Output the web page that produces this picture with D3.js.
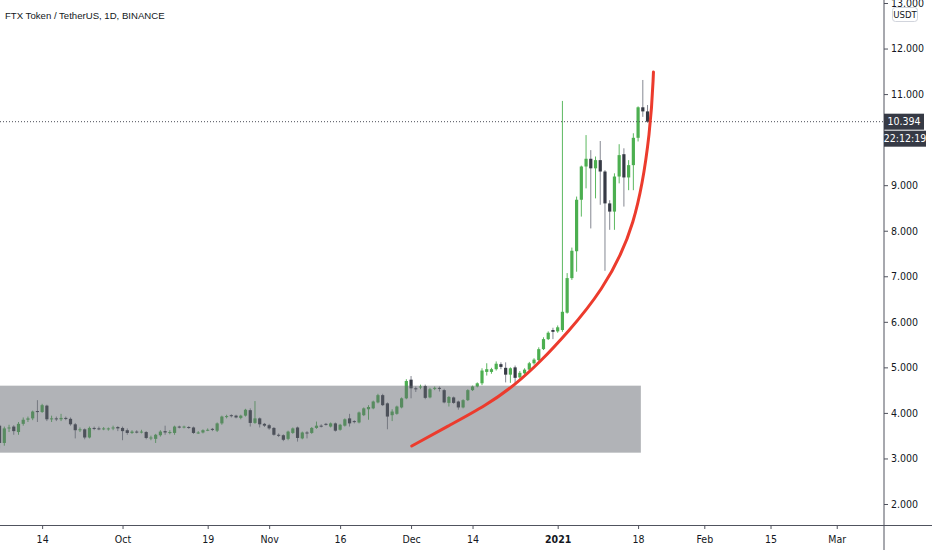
<!DOCTYPE html>
<html>
<head>
<meta charset="utf-8">
<script src="https://cdn.jsdelivr.net/npm/d3@7"></script>
<style>
  body { margin: 0; background: #fff; }
  svg { display: block; }
</style>
</head>
<body>
<div id="container"></div>
<script>
/* CONSTANTS AND GLOBALS */
const width = 932,
  height = 550,
  axisX = 884,   // price scale line
  axisY = 525,   // time scale line
  narrow = "'Liberation Sans Narrow', 'Arial Narrow', 'DejaVu Sans Condensed', sans-serif";

/* DATA */
const title = "FTX Token / TetherUS, 1D, BINANCE";
const firstDay = "2020-09-05", lastDay = "2021-01-20";

const openVals = [3.72,3.34,3.66,3.70,3.58,3.76,3.85,3.88,4.04,4.02,4.16,3.86,3.88,3.86,3.89,3.87,3.75,3.62,3.64,3.46,
  3.67,3.66,3.65,3.66,3.66,3.69,3.67,3.62,3.56,3.59,3.58,3.58,3.45,3.43,3.51,3.60,3.56,3.56,3.70,3.68,
  3.69,3.68,3.56,3.57,3.62,3.65,3.61,3.77,3.92,3.95,3.94,3.89,3.94,4.06,3.78,3.88,3.76,3.73,3.67,3.52,
  3.51,3.43,3.56,3.68,3.44,3.57,3.56,3.67,3.72,3.76,3.70,3.77,3.63,3.72,3.88,3.82,3.79,3.95,4.08,4.10,
  4.23,4.39,4.21,3.95,3.98,4.12,4.32,4.73,4.54,4.56,4.59,4.34,4.53,4.55,4.50,4.22,4.34,4.25,4.12,4.28,
  4.50,4.58,4.65,4.90,4.90,4.96,5.07,4.99,4.84,5.00,4.78,4.87,4.95,5.09,5.16,5.40,5.62,5.82,5.79,5.82,
  6.20,6.96,7.55,8.68,9.41,9.58,9.37,9.55,9.30,8.60,8.42,9.19,9.68,9.17,9.44,10.04,10.71,10.62];
const highVals = [3.76,3.70,3.74,3.73,3.80,3.90,3.92,4.05,4.28,4.20,4.18,3.94,3.92,3.98,3.92,3.90,3.78,3.68,3.66,3.70,
  3.70,3.70,3.69,3.68,3.72,3.71,3.70,3.66,3.62,3.62,3.63,3.60,3.50,3.54,3.62,3.72,3.62,3.72,3.72,3.72,
  3.71,3.70,3.60,3.64,3.66,3.67,3.79,3.94,3.96,3.97,3.96,3.96,4.09,4.10,4.26,3.90,3.78,3.76,3.69,3.55,
  3.53,3.61,3.68,3.70,3.59,3.60,3.69,3.81,3.75,3.78,3.79,3.79,3.76,3.88,3.98,3.84,4.03,4.12,4.17,4.27,
  4.42,4.42,4.23,4.08,4.16,4.34,4.74,4.81,4.58,4.62,4.62,4.55,4.58,4.58,4.53,4.37,4.36,4.27,4.30,4.52,
  4.60,4.67,4.98,5.09,4.99,5.13,5.11,5.11,5.00,5.04,4.92,4.98,5.12,5.20,5.44,5.66,5.79,5.87,5.92,10.85,
  7.07,7.63,8.75,9.43,10.10,9.77,9.63,9.97,9.33,8.67,9.26,9.90,9.81,9.55,10.14,10.73,11.31,10.76];
const lowVals = [3.22,3.28,3.58,3.52,3.52,3.72,3.80,3.84,3.80,4.00,3.82,3.80,3.82,3.82,3.84,3.72,3.44,3.58,3.42,3.44,
  3.62,3.62,3.62,3.61,3.62,3.60,3.40,3.52,3.54,3.55,3.55,3.42,3.40,3.34,3.48,3.52,3.53,3.52,3.66,3.66,
  3.65,3.54,3.54,3.55,3.60,3.60,3.58,3.74,3.88,3.90,3.88,3.86,3.92,3.70,3.76,3.68,3.69,3.63,3.50,3.47,
  3.38,3.40,3.54,3.37,3.42,3.44,3.54,3.65,3.68,3.72,3.68,3.59,3.61,3.70,3.70,3.77,3.77,3.93,3.85,4.08,
  4.21,4.15,3.64,3.82,3.96,4.10,4.30,4.32,4.46,4.52,4.30,4.32,4.50,4.47,4.21,4.14,4.20,4.07,4.10,4.26,
  4.48,4.56,4.61,4.82,4.86,4.93,4.96,4.67,4.66,4.63,4.75,4.84,4.93,5.06,5.14,5.38,5.60,5.62,5.76,5.78,
  6.18,6.92,7.10,8.31,8.93,8.05,8.71,8.57,7.12,8.02,8.02,9.04,8.53,8.89,8.89,9.96,10.50,10.37];
const closeVals = [3.34,3.66,3.68,3.60,3.76,3.85,3.88,4.03,4.02,4.17,3.86,3.88,3.86,3.89,3.87,3.75,3.62,3.64,3.46,3.67,
  3.66,3.65,3.66,3.66,3.68,3.66,3.60,3.56,3.59,3.58,3.59,3.45,3.46,3.52,3.59,3.57,3.58,3.70,3.69,3.70,
  3.68,3.56,3.57,3.62,3.63,3.63,3.77,3.92,3.93,3.93,3.90,3.94,4.07,3.78,3.88,3.75,3.72,3.66,3.52,3.51,
  3.41,3.59,3.66,3.45,3.57,3.55,3.67,3.72,3.71,3.74,3.77,3.61,3.74,3.86,3.77,3.80,4.01,4.10,4.13,4.25,
  4.39,4.17,3.92,4.03,4.14,4.32,4.70,4.54,4.52,4.58,4.33,4.52,4.55,4.53,4.23,4.35,4.22,4.12,4.28,4.50,
  4.58,4.65,4.93,4.96,4.96,5.08,5.01,4.84,4.98,4.77,4.88,4.95,5.09,5.17,5.40,5.62,5.76,5.78,5.88,6.22,
  6.96,7.56,8.68,9.41,9.58,9.37,9.55,9.30,8.60,8.42,9.19,9.66,9.17,9.44,10.04,10.71,10.62,10.394];

const priceTicks = [2, 3, 4, 5, 6, 7, 8, 9, 10, 11, 12, 13];
const tickDates = ["2020-09-14","2020-10-01","2020-10-19","2020-11-01","2020-11-16","2020-12-01",
  "2020-12-14","2021-01-01","2021-01-18","2021-02-01","2021-02-15","2021-03-01"];
const tickLabels = ["14","Oct","19","Nov","16","Dec","14","2021","18","Feb","15","Mar"];

const lastPrice = 10.394, countdown = "22:12:19", currency = "USDT";

// grey rectangle drawing
const boxStart = "2020-08-20", boxEnd = "2021-01-18T14:00:00Z", boxLow = 3.127, boxHigh = 4.598;

// red arc drawing, anchor points
const arcDates = ["2020-12-01T03:36:00Z","2020-12-09T06:00:00Z","2020-12-16T21:00:00Z","2020-12-23T00:00:00Z",
  "2020-12-28T12:00:00Z","2021-01-03T00:00:00Z","2021-01-10T04:00:00Z","2021-01-17T14:00:00Z",
  "2021-01-20T18:00:00Z","2021-01-21T06:00:00Z"];
const arcPrices = [3.274, 3.735, 4.164, 4.614, 5.141, 5.756, 6.634, 8.061, 10.278, 11.485];

const days = d3.utcDay.range(new Date(firstDay), d3.utcDay.offset(new Date(lastDay), 1));
const data = days.map((d, i) => ({
  date: d, open: openVals[i], high: highVals[i], low: lowVals[i], close: closeVals[i]
}));
const arc = arcDates.map((d, i) => ({ date: new Date(d), price: arcPrices[i] }));

/* SCALES */
const xScale = d3.scaleUtc()
  .domain([new Date("2020-09-05T02:10:00Z"), new Date("2021-03-10T23:50:00Z")])
  .range([0, axisX]);

const yScale = d3.scaleLinear()
  .domain([2, 13])
  .range([504, 3]);

/* HTML ELEMENTS */
const svg = d3.select("#container")
  .append("svg")
  .attr("width", width)
  .attr("height", height);

svg.append("defs").append("clipPath")
  .attr("id", "plot")
  .append("rect")
  .attr("width", axisX)
  .attr("height", axisY);

const plot = svg.append("g").attr("clip-path", "url(#plot)");

// candles
const up = d => d.close >= d.open;

plot.selectAll(".wick")
  .data(data)
  .join("line")
  .attr("class", "wick")
  .attr("x1", d => xScale(d.date))
  .attr("x2", d => xScale(d.date))
  .attr("y1", d => yScale(d.high))
  .attr("y2", d => yScale(d.low))
  .attr("stroke", d => up(d) ? "#5cb860" : "#858892")
  .attr("stroke-width", 1);

plot.selectAll(".body")
  .data(data)
  .join("rect")
  .attr("class", "body")
  .attr("x", d => xScale(d.date) - 1.6)
  .attr("width", 3.2)
  .attr("y", d => yScale(Math.max(d.open, d.close)))
  .attr("height", d => Math.max(1, Math.abs(yScale(d.open) - yScale(d.close))))
  .attr("fill", d => up(d) ? "#4caf50" : "#363a45");

// grey rectangle over the candles
plot.append("rect")
  .attr("x", xScale(new Date(boxStart)))
  .attr("y", yScale(boxHigh))
  .attr("width", xScale(new Date(boxEnd)) - xScale(new Date(boxStart)))
  .attr("height", yScale(boxLow) - yScale(boxHigh))
  .attr("fill", "rgba(100,103,112,0.5)");

// last price line
plot.append("line")
  .attr("x1", 0)
  .attr("x2", axisX)
  .attr("y1", yScale(lastPrice))
  .attr("y2", yScale(lastPrice))
  .attr("stroke", "#4a4d57")
  .attr("stroke-width", 1)
  .attr("stroke-dasharray", "1,2");

// red arc (smoothed through the anchors)
plot.append("path")
  .datum(arc)
  .attr("d", d3.line()
    .x(d => xScale(d.date))
    .y(d => yScale(d.price))
    .curve(d3.curveBasis))
  .attr("fill", "none")
  .attr("stroke", "#ec3b2d")
  .attr("stroke-width", 3)
  .attr("stroke-linecap", "round");

// title
svg.append("text")
  .attr("x", 5)
  .attr("y", 18.5)
  .text(title)
  .style("font-family", "'Liberation Sans', Arial, sans-serif")
  .style("font-size", "9.6px")
  .style("fill", "#131722");

// axis scales
const yAxis = d3.axisRight(yScale)
  .tickValues(priceTicks)
  .tickFormat(d3.format(".3f"))
  .tickSize(4)
  .tickPadding(3);

const gy = svg.append("g")
  .attr("transform", `translate(${axisX},0)`)
  .call(yAxis);

const xAxis = d3.axisBottom(xScale)
  .tickValues(tickDates.map(d => new Date(d)))
  .tickFormat((d, i) => tickLabels[i])
  .tickSize(4)
  .tickPadding(7);

const gx = svg.append("g")
  .attr("transform", `translate(0,${axisY})`)
  .call(xAxis);

[gx, gy].forEach(g => {
  g.select(".domain").remove();
  g.selectAll(".tick line").attr("stroke", "#50535e");
  g.selectAll(".tick text")
    .style("font-family", narrow)
    .style("font-size", "10.5px")
    .style("fill", "#131722");
});
gx.selectAll(".tick text").filter(d => d.getUTCMonth() === 0 && d.getUTCDate() === 1)
  .style("font-weight", "bold");

// price labels sitting under the last-price tags are hidden, as on the original
const ly = yScale(lastPrice);
gy.selectAll(".tick text")
  .filter(d => Math.abs(yScale(d) - ly) < 26)
  .remove();

// scale lines
svg.append("line")
  .attr("x1", axisX).attr("x2", axisX)
  .attr("y1", 0).attr("y2", height)
  .attr("stroke", "#50535e");

svg.append("line")
  .attr("x1", 0).attr("x2", width)
  .attr("y1", axisY + 0.5).attr("y2", axisY + 0.5)
  .attr("stroke", "#50535e");

// price label + countdown
const labels = svg.append("g").attr("transform", `translate(${axisX},0)`);

labels.append("rect")
  .attr("x", 0).attr("y", ly - 8)
  .attr("width", 40).attr("height", 16)
  .attr("fill", "#363a45");
labels.append("text")
  .attr("x", 20).attr("y", ly)
  .attr("dy", "0.35em")
  .attr("text-anchor", "middle")
  .text(d3.format(".3f")(lastPrice))
  .style("font-family", narrow)
  .style("font-size", "10.5px")
  .style("fill", "#fff");

labels.append("rect")
  .attr("x", 0).attr("y", ly + 9)
  .attr("width", 42).attr("height", 16)
  .attr("fill", "#363a45");
labels.append("text")
  .attr("x", 21).attr("y", ly + 17)
  .attr("dy", "0.35em")
  .attr("text-anchor", "middle")
  .text(countdown)
  .style("font-family", narrow)
  .style("font-size", "10.5px")
  .style("fill", "#fff");

// currency tag
labels.append("rect")
  .attr("x", 8.5).attr("y", 7.5)
  .attr("width", 25).attr("height", 14)
  .attr("rx", 3)
  .attr("fill", "#fff")
  .attr("stroke", "#d1d4dc");
labels.append("text")
  .attr("x", 21).attr("y", 14.5)
  .attr("dy", "0.35em")
  .attr("text-anchor", "middle")
  .text(currency)
  .style("font-family", narrow)
  .style("font-size", "9.5px")
  .style("fill", "#131722");
</script>
</body>
</html>
